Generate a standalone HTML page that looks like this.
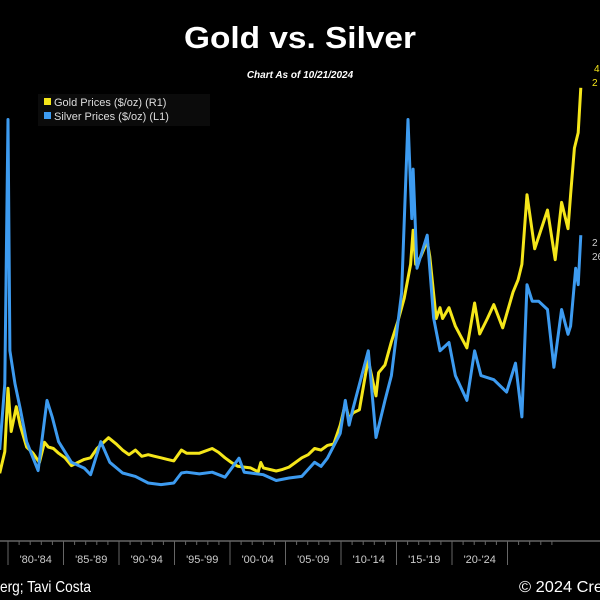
<!DOCTYPE html>
<html><head><meta charset="utf-8"><style>
html,body{margin:0;padding:0;background:#000;width:600px;height:600px;overflow:hidden}
svg{display:block;font-family:"Liberation Sans",sans-serif}
</style></head><body>
<svg id="c" width="600" height="600" viewBox="0 0 600 600">
<rect width="600" height="600" fill="#000"/>
<text x="300" y="48" text-anchor="middle" fill="#fff" font-size="31" font-weight="bold" textLength="232" lengthAdjust="spacingAndGlyphs">Gold vs. Silver</text>
<text x="300" y="78" text-anchor="middle" fill="#fff" font-size="10" font-weight="bold" font-style="italic">Chart As of 10/21/2024</text>
<rect x="38" y="94" width="172" height="32" fill="#0b0b0b"/>
<rect x="44" y="98" width="7" height="7" fill="#f5e61a"/>
<text x="54" y="106" fill="#ddd" font-size="11">Gold Prices ($/oz) (R1)</text>
<rect x="44" y="112" width="7" height="7" fill="#3d9bf0"/>
<text x="54" y="120" fill="#ddd" font-size="11">Silver Prices ($/oz) (L1)</text>
<text x="594" y="72" fill="#f5e61a" font-size="10">4</text>
<text x="592" y="86" fill="#f5e61a" font-size="10">2</text>
<text x="592" y="246" fill="#ccc" font-size="10">2</text>
<text x="592" y="260" fill="#ccc" font-size="10">26</text>
<line x1="0" y1="541" x2="600" y2="541" stroke="#999" stroke-width="1"/>
<g id="xt"></g>
<g id="series"></g>
<text x="0" y="592" fill="#fff" font-size="16" textLength="91" lengthAdjust="spacingAndGlyphs">erg; Tavi Costa</text>
<text x="519" y="592" fill="#fff" font-size="16" textLength="84" lengthAdjust="spacingAndGlyphs">© 2024 Cre</text>
</svg>
<script>
const goldYears=[1979.4,1979.8,1980.05,1980.3,1980.7,1981.0,1981.5,1982.0,1982.5,1982.9,1983.2,1983.6,1984,1984.5,1985,1985.5,1986,1986.5,1987,1987.9,1988.5,1989,1989.5,1990,1990.5,1991,1991.5,1992,1992.5,1993,1993.6,1994,1995,1996,1996.5,1997,1997.5,1998,1998.5,1999,1999.6,1999.8,2000,2001,2001.5,2002,2002.5,2003,2003.5,2004,2004.5,2005,2005.5,2006,2006.4,2006.7,2007,2007.5,2008,2008.2,2008.8,2009,2009.5,2010,2010.5,2011,2011.5,2011.7,2011.9,2012.3,2012.8,2013,2013.5,2013.8,2014,2014.5,2015,2015.9,2016.5,2016.9,2017.5,2018,2018.7,2019.5,2019.9,2020.2,2020.6,2021.2,2021.6,2022.2,2022.8,2023.3,2023.8,2024,2024.3,2024.6,2024.8];
const goldValues=[250,390,800,520,680,560,420,380,320,450,420,410,380,350,300,320,340,350,410,480,440,400,370,400,360,370,360,350,340,330,400,380,380,410,385,350,320,295,290,285,260,320,285,265,275,290,320,350,370,410,400,430,440,560,700,600,640,660,900,980,750,900,950,1100,1230,1380,1600,1820,1600,1650,1750,1650,1250,1320,1250,1320,1200,1060,1350,1150,1250,1340,1190,1420,1500,1600,2050,1700,1800,1950,1630,2000,1830,2050,2350,2450,2740];
const silverYears=[1979.4,1979.8,1980.05,1980.2,1980.6,1981,1981.5,1982.4,1983.1,1983.5,1984,1985,1986,1986.5,1987.3,1988,1989,1990,1991,1992,1993,1993.6,1994,1995,1996,1997,1998.1,1998.5,1999,2000,2001,2002,2003,2004,2004.5,2005,2006,2006.4,2006.7,2007,2008.2,2008.8,2009.5,2010,2010.8,2011.3,2011.6,2011.7,2012,2012.8,2013.3,2013.8,2014.5,2015,2015.9,2016.5,2017,2018,2019,2019.7,2020.2,2020.6,2021,2021.5,2022.2,2022.7,2023.3,2023.8,2024,2024.4,2024.6,2024.8];
const silverValues=[8,16,48,20,16,13,9,5.5,14,12,9,6.5,5.8,5,9,6.5,5.2,4.8,4,3.8,4,5.2,5.3,5.1,5.3,4.7,7,5.3,5.2,5,4.3,4.6,4.8,6.5,6,7,10,14,11,13,20,9.5,14,17,27,48,36,42,30,34,24,20,21,17,14,20,17,16.5,15,18.5,12,28,26,26,25,18,25,22,23,30,28,34];
const xLabels=["'80-'84","'85-'89","'90-'94","'95-'99","'00-'04","'05-'09","'10-'14","'15-'19","'20-'24"];
const sepX0=8, sepStep=55.5;
function xScale(yr){return 8+(yr-1980.05)*12.8;}
function yGold(v){return 512-v*0.1548;}
function ySilver(v){return 516-v*8.26;}
const NS="http://www.w3.org/2000/svg";
const xt=document.getElementById('xt');
for(let i=0;i<=xLabels.length;i++){
  const x=sepX0+i*sepStep;
  const l=document.createElementNS(NS,'line');
  l.setAttribute('x1',x);l.setAttribute('x2',x);l.setAttribute('y1',541);l.setAttribute('y2',565);
  l.setAttribute('stroke','#666');
  
  
  xt.appendChild(l);
  for(let k=1;k<5;k++){
    const m=document.createElementNS(NS,'line');
    const mx=x+k*sepStep/5;
    m.setAttribute('x1',mx);m.setAttribute('x2',mx);m.setAttribute('y1',541);m.setAttribute('y2',545);
    m.setAttribute('stroke','#666');
    
    
    xt.appendChild(m);
  }
  if(i<xLabels.length){
    const t=document.createElementNS(NS,'text');
    t.setAttribute('x',x+sepStep/2);t.setAttribute('y',563);
    t.setAttribute('text-anchor','middle');t.setAttribute('fill','#ccc');t.setAttribute('font-size','11');
    t.textContent=xLabels[i];
    
    
    xt.appendChild(t);
  }
}
function path(xs,vs,yf,color,name){
  let d='';
  for(let i=0;i<xs.length;i++){d+=(i?'L':'M')+xScale(xs[i]).toFixed(1)+','+yf(vs[i]).toFixed(1);}
  const p=document.createElementNS(NS,'path');
  p.setAttribute('d',d);p.setAttribute('fill','none');p.setAttribute('stroke',color);
  p.setAttribute('stroke-width','3');p.setAttribute('stroke-linejoin','round');
  
  
  document.getElementById('series').appendChild(p);
}
path(goldYears,goldValues,yGold,'#f5e61a','gold-line');
path(silverYears,silverValues,ySilver,'#3d9bf0','silver-line');
</script>
</body></html>
